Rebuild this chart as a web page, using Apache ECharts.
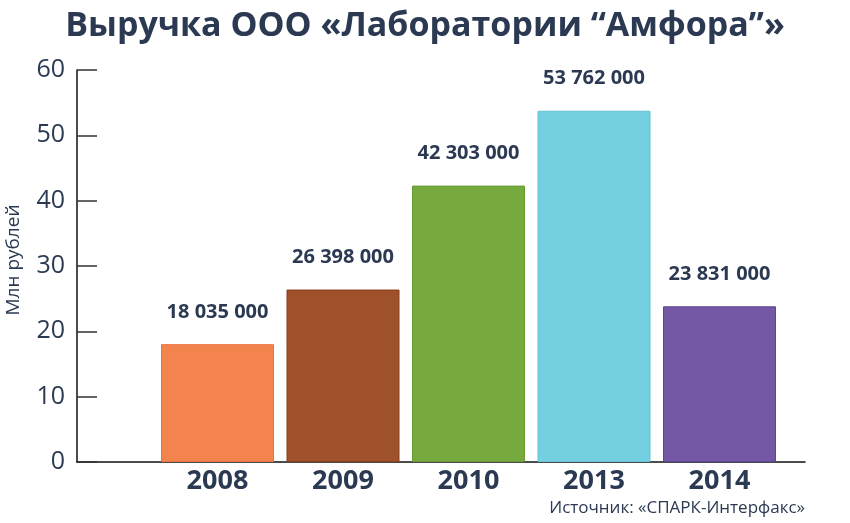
<!DOCTYPE html>
<html>
<head>
<meta charset="utf-8">
<script src="https://cdn.jsdelivr.net/npm/echarts@6/dist/echarts.min.js"></script>
<style>
html, body { margin: 0; padding: 0; background: #fff; }
#chart { width: 850px; height: 523px; }
</style>
</head>
<body>
<div id="chart"></div>
<script>
// выручка, млн руб.
let years = ['2008', '2009', '2010', '2013', '2014'];
let revenue = [18.035, 26.398, 42.303, 53.762, 23.831];
let barColors = ['#f4844e', '#9e512a', '#76aa3f', '#74cfe0', '#7558a5'];
let borderColors = ['#ea7440', '#8a3f1c', '#66992f', '#64c3d6', '#5f4394'];

let textColor = '#2b3a52';
let chart = echarts.init(document.getElementById('chart'));

function formatRub(mln) {
    let s = String(Math.round(mln * 1000000));
    return s.replace(/\B(?=(\d{3})+(?!\d))/g, ' ');
}

let options = {
    backgroundColor: '#fff',
    animation: false,
    textStyle: { fontFamily: 'Open Sans' },
    title: {
        text: 'Выручка ООО «Лаборатории “Амфора”»',
        left: 'center',
        top: 4,
        textStyle: {
            color: textColor,
            fontSize: 34,
            fontWeight: 'bold',
            fontFamily: 'Open Sans'
        }
    },
    graphic: [{
        type: 'text',
        right: 45,
        top: 500,
        style: {
            text: 'Источник: «СПАРК-Интерфакс»',
            fill: textColor,
            font: '17px "Open Sans"'
        }
    }, {
        type: 'text',
        x: 14,
        y: 260,
        rotation: Math.PI / 2,
        style: {
            text: 'Млн рублей',
            fill: textColor,
            font: '19px "Open Sans"',
            align: 'center',
            verticalAlign: 'middle'
        }
    }],
    grid: [
        { left: 77, right: 45, top: 70, bottom: 61, outerBoundsMode: 'none' },
        { left: 154.75, right: 67.75, top: 70, bottom: 61, outerBoundsMode: 'none' }
    ],
    xAxis: [{
        gridIndex: 0,
        type: 'value',
        min: 0,
        max: 1,
        axisLine: { show: true, onZero: false, lineStyle: { color: '#111', width: 1.5 } },
        axisTick: { show: false },
        axisLabel: { show: false },
        splitLine: { show: false }
    }, {
        gridIndex: 1,
        type: 'category',
        data: years,
        axisLine: { show: false },
        axisTick: { show: false },
        axisLabel: {
            margin: 6,
            color: textColor,
            fontSize: 27,
            fontWeight: 'bold',
            fontFamily: 'Open Sans'
        }
    }],
    yAxis: [{
        gridIndex: 0,
        type: 'value',
        min: 0,
        max: 60,
        interval: 10,
        axisLine: { show: true, lineStyle: { color: '#111', width: 1.5 } },
        axisTick: { show: true, inside: true, length: 20, lineStyle: { color: '#333', width: 1.5 } },
        axisLabel: { margin: 12, color: textColor, fontSize: 25, fontFamily: 'Open Sans' },
        splitLine: { show: false }
    }, {
        gridIndex: 1,
        type: 'value',
        min: 0,
        max: 60,
        interval: 10,
        show: false,
        splitLine: { show: false }
    }],
    series: [{
        type: 'bar',
        xAxisIndex: 1,
        yAxisIndex: 1,
        barWidth: 113,
        data: revenue.map((v, i) => ({
            value: v,
            itemStyle: { color: barColors[i], borderColor: borderColors[i], borderWidth: 1 }
        })),
        label: {
            show: true,
            position: 'top',
            distance: 22,
            color: textColor,
            fontSize: 20,
            fontWeight: 'bold',
            fontFamily: 'Open Sans',
            formatter: p => formatRub(p.value)
        }
    }]
};
chart.setOption(options);
</script>
</body>
</html>
